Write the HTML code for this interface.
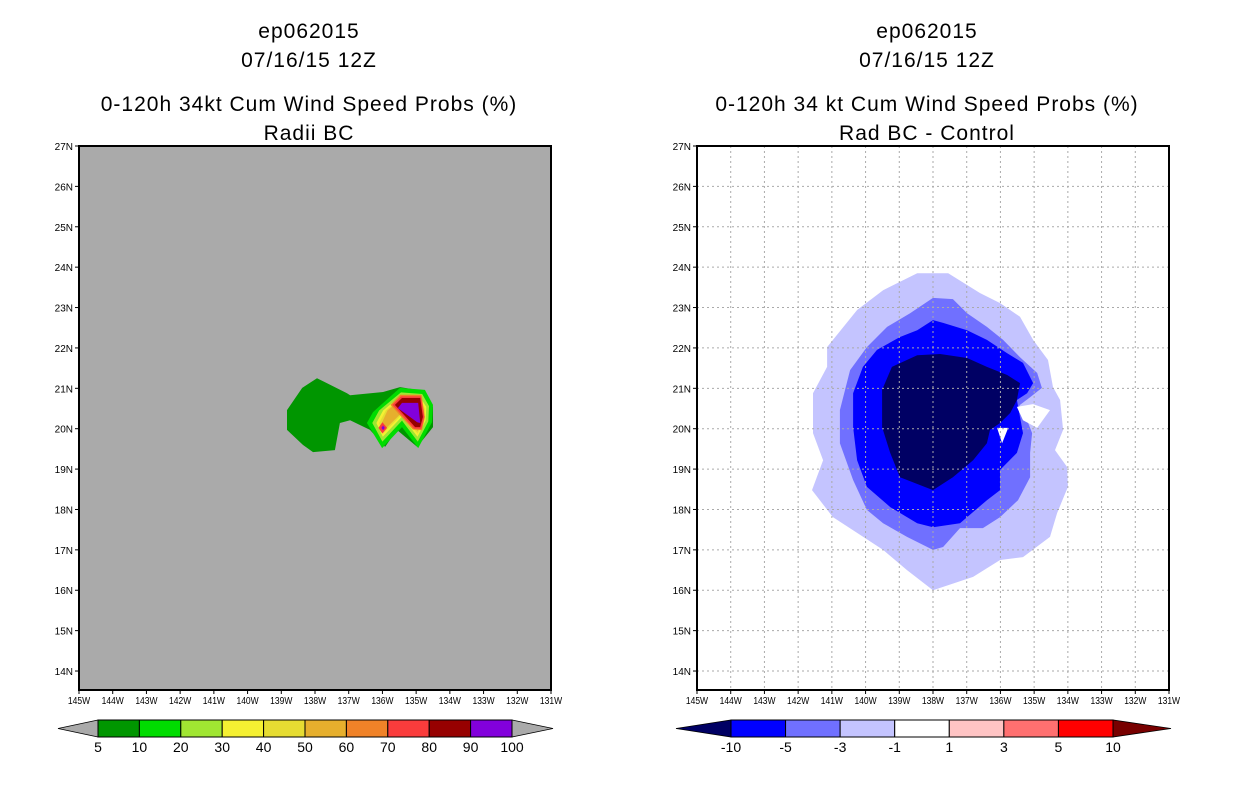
<!DOCTYPE html>
<html><head><meta charset="utf-8"><style>
body{margin:0;background:#fff}
svg{display:block}
text{font-family:"Liberation Sans",sans-serif}
.t{font-size:21px;letter-spacing:1px}
.tk{font-size:10px}
</style></head><body>
<svg id="s" width="1236" height="800" xmlns="http://www.w3.org/2000/svg">
<g>
<text class="t" x="309" y="38" text-anchor="middle">ep062015</text>
<text class="t" x="309" y="67" text-anchor="middle">07/16/15 12Z</text>
<text class="t" x="309" y="111" text-anchor="middle">0-120h 34kt Cum Wind Speed Probs (%)</text>
<text class="t" x="309" y="140" text-anchor="middle">Radii BC</text>
</g>
<g>
<text class="t" x="927" y="38" text-anchor="middle">ep062015</text>
<text class="t" x="927" y="67" text-anchor="middle">07/16/15 12Z</text>
<text class="t" x="927" y="111" text-anchor="middle">0-120h 34 kt Cum Wind Speed Probs (%)</text>
<text class="t" x="927" y="140" text-anchor="middle">Rad BC - Control</text>
</g>
</svg>
<script>
const lonTicks=[145,144,143,142,141,140,139,138,137,136,135,134,133,132,131];
const latTicks=[27,26,25,24,23,22,21,20,19,18,17,16,15,14];
const leftLevels=['5','10','20','30','40','50','60','70','80','90','100'];
const leftColors=['#009600','#00dc00','#a0e632','#f5f032','#e6dc32','#e6af2d','#f08228','#fa3c3c','#960000','#8200dc'];
const rightLevels=['-10','-5','-3','-1','1','3','5','10'];
const rightColors=['#000064','#0000ff','#7070ff','#c4c4ff','#ffffff','#ffc4c4','#ff7070','#ff0000'];
// left contour polygons [lonW,lat]
const L5=[[137.94,21.25],[137.05,20.88],[136.96,20.83],[135.98,20.91],[135.48,21.03],[134.97,20.96],[134.50,20.54],[134.50,20.04],[134.97,19.55],[135.57,19.97],[135.92,19.55],[136.37,19.97],[136.96,20.21],[137.26,20.14],[137.41,19.47],[138.06,19.42],[138.36,19.60],[138.83,19.97],[138.83,20.46],[138.38,21.01]];
const L10=[[136.46,20.14],[136.28,20.41],[135.48,21.01],[134.74,20.96],[134.50,20.59],[134.53,20.16],[134.94,19.52],[135.42,20.04],[136.01,19.52]];
const L20=[[136.3,20.14],[136.1,20.45],[135.45,20.9],[134.82,20.86],[134.62,20.56],[134.64,20.18],[134.95,19.68],[135.42,20.2],[136.0,19.68]];
const L30=[[136.18,20.14],[135.98,20.45],[135.45,20.82],[134.88,20.78],[134.7,20.54],[134.72,20.2],[134.96,19.8],[135.42,20.3],[135.99,19.8]];
const L40=[[136.1,20.14],[135.9,20.45],[135.46,20.76],[134.9,20.72],[134.74,20.5],[134.76,20.2],[134.96,19.88],[135.42,20.36],[135.98,19.88]];
const L50=[[136.02,20.14],[135.85,20.45],[135.47,20.72],[134.92,20.7],[134.76,20.47],[134.78,20.18],[134.96,19.94],[135.42,20.4],[135.98,19.94]];
const L60=[[135.76,20.59],[135.47,20.84],[134.84,20.84],[134.74,20.29],[134.83,19.96],[135.1,19.98]];
const L70=[[135.7,20.59],[135.45,20.8],[134.86,20.8],[134.76,20.29],[134.85,20.0],[135.06,20.0]];
const L80=[[135.63,20.59],[135.42,20.76],[134.88,20.76],[134.80,20.29],[134.88,20.04],[135.03,20.04]];
const L90=[[135.54,20.51],[135.42,20.64],[134.94,20.64],[134.88,20.14],[134.97,20.16]];
const LS70=[[136.0,20.16],[135.86,20.02],[136.0,19.88],[136.12,20.02]];
const LS90=[[135.98,20.08],[135.93,20.02],[135.98,19.96],[136.03,20.02]];
// right contour polygons
const Rm1=[[138.47,23.85],[137.55,23.85],[136.61,23.36],[136.01,23.11],[135.42,22.77],[135.03,22.2],[134.59,21.7],[134.44,21.03],[134.23,20.71],[134.14,19.97],[134.38,19.47],[134.02,19.05],[134.0,18.56],[134.32,17.91],[134.53,17.32],[135.33,16.82],[136.01,16.75],[136.81,16.33],[138.0,16.0],[138.77,16.5],[139.48,17.0],[140.25,17.42],[140.97,17.81],[141.59,18.48],[141.26,19.22],[141.56,19.89],[141.56,20.88],[141.14,21.53],[141.14,22.02],[140.25,22.94],[139.48,23.43]];
const Rm3=[[138.0,23.24],[137.41,23.21],[136.99,22.86],[136.40,22.52],[135.92,22.20],[135.42,21.77],[134.91,21.38],[134.77,21.01],[135.12,20.78],[135.42,20.59],[135.51,20.46],[135.21,20.21],[135.06,19.89],[135.12,19.40],[135.12,18.80],[135.48,18.23],[136.01,17.81],[136.52,17.54],[137.20,17.54],[137.70,17.07],[138.0,17.0],[138.77,17.32],[139.48,17.66],[139.96,17.99],[140.37,18.73],[140.76,19.64],[140.76,20.46],[140.46,21.45],[139.96,22.02],[139.36,22.52],[138.68,22.86]];
const Rm5=[[138.0,22.69],[137.70,22.62],[136.99,22.44],[136.40,22.20],[135.80,21.87],[135.33,21.63],[135.03,21.13],[135.21,20.88],[135.51,20.71],[135.42,20.29],[135.33,19.89],[135.51,19.40],[136.01,18.98],[136.01,18.48],[136.40,18.23],[137.20,17.66],[138.0,17.56],[138.47,17.66],[139.27,18.06],[139.96,18.56],[140.25,19.22],[140.37,20.04],[140.37,20.88],[140.08,21.53],[139.66,21.95],[138.98,22.27],[138.47,22.44]];
const Rm10=[[138.47,21.82],[137.79,21.85],[136.99,21.75],[136.40,21.53],[135.80,21.33],[135.42,21.13],[135.51,20.71],[135.71,20.39],[136.01,20.14],[136.31,19.97],[136.40,19.64],[136.81,19.22],[137.41,18.80],[138.0,18.48],[138.98,18.80],[139.27,19.40],[139.51,20.04],[139.51,20.96],[139.22,21.53]];
const RwA=[[135.51,20.54],[135.03,20.61],[134.53,20.46],[134.91,20.02],[135.33,20.21]];
const RwB=[[136.10,20.02],[135.77,20.02],[135.95,19.64]];

const NS='http://www.w3.org/2000/svg';
const svg=document.getElementById('s');
function mk(t,a,p){const e=document.createElementNS(NS,t);for(const k in a)e.setAttribute(k,a[k]);(p||svg).appendChild(e);return e;}
const Y0=146,Y1=690,LAT0=27,LAT1=13.53;
function sy(lat){return Y0+(LAT0-lat)*(Y1-Y0)/(LAT0-LAT1);}
function sxF(x0){return lon=>x0+(145-lon)*(472/14);}
function poly(g,sx,pts,fill){
  const e=mk('polygon',{points:pts.map(p=>sx(p[0]).toFixed(1)+','+sy(p[1]).toFixed(1)).join(' '),fill:fill},g);
  
  
}
function panel(x0,bg,name,layers,grid){
  const sx=sxF(x0);
  const g=mk('g',{});
  
  
  const r=mk('rect',{x:x0,y:Y0,width:472,height:Y1-Y0,fill:bg},g);
  
  
  layers.forEach(l=>poly(g,sx,l[0],l[1]));
  lonTicks.forEach(lon=>{
    const x=sx(lon);
    if(grid&&lon!==145&&lon!==131){const gl=mk('line',{x1:x,x2:x,y1:Y0,y2:Y1,stroke:'#aaa','stroke-dasharray':'2,3'},g);}
    mk('line',{x1:x,x2:x,y1:Y1,y2:Y1+4,stroke:'#000'},g);
    const t=mk('text',{x:x,y:Y1+14,'text-anchor':'middle',class:'tk',transform:`translate(${x},0) scale(0.85,1) translate(${-x},0)`},g);
    t.textContent=lon+'W';
    
    
  });
  latTicks.forEach(lat=>{
    const y=sy(lat);
    if(grid&&lat!==27){const gl=mk('line',{x1:x0,x2:x0+472,y1:y,y2:y,stroke:'#aaa','stroke-dasharray':'2,3'},g);}
    mk('line',{x1:x0-4,x2:x0,y1:y,y2:y,stroke:'#000'},g);
    const t=mk('text',{x:x0-6,y:y+4,'text-anchor':'end',class:'tk'},g);
    t.textContent=lat+'N';
    
    
  });
  const f=mk('rect',{x:x0,y:Y0,width:472,height:Y1-Y0,fill:'none',stroke:'#000','stroke-width':2},g);
  
  
}
panel(79,'#aaaaaa','left-map-panel',[[L5,'#009600'],[L10,'#00dc00'],[L20,'#a0e632'],[L30,'#f5f032'],[L40,'#e6dc32'],[L50,'#e6af2d'],[L60,'#f08228'],[L70,'#fa3c3c'],[L80,'#960000'],[L90,'#8200dc'],[LS70,'#fa3c3c'],[LS90,'#8200dc']],false);
panel(697,'#ffffff','right-map-panel',[[Rm1,'#c4c4ff'],[Rm3,'#7070ff'],[Rm5,'#0000ff'],[Rm10,'#000064'],[RwA,'#ffffff'],[RwB,'#ffffff']],true);

function colorbar(name,xl,xb0,xb1,xr,colors,leftTri,rightTri,labels){
  const g=mk('g',{});
  
  
  const yt=720,yb=737,ym=728.5;
  const w=(xb1-xb0)/colors.length;
  let e=mk('polygon',{points:`${xl},${ym} ${xb0},${yt} ${xb0},${yb}`,fill:leftTri,stroke:'#000','stroke-width':0.8},g);
  
  e=mk('polygon',{points:`${xr},${ym} ${xb1},${yt} ${xb1},${yb}`,fill:rightTri,stroke:'#000','stroke-width':0.8},g);
  
  colors.forEach((c,i)=>{
    const r=mk('rect',{x:xb0+i*w,y:yt,width:w,height:yb-yt,fill:c,stroke:'#000','stroke-width':1},g);
    
    
  });
  labels.forEach((lb,i)=>{
    const t=mk('text',{x:xb0+i*w,y:752,'text-anchor':'middle','font-size':'14px'},g);
    t.textContent=lb;
    
    
  });
}
colorbar('left-colorbar',58,98,512,553,leftColors,'#aaaaaa','#aaaaaa',leftLevels);
colorbar('right-colorbar',676,731,1113,1171,rightColors.slice(1),'#000064','#780000',rightLevels.slice(0));
</script>
</body></html>
